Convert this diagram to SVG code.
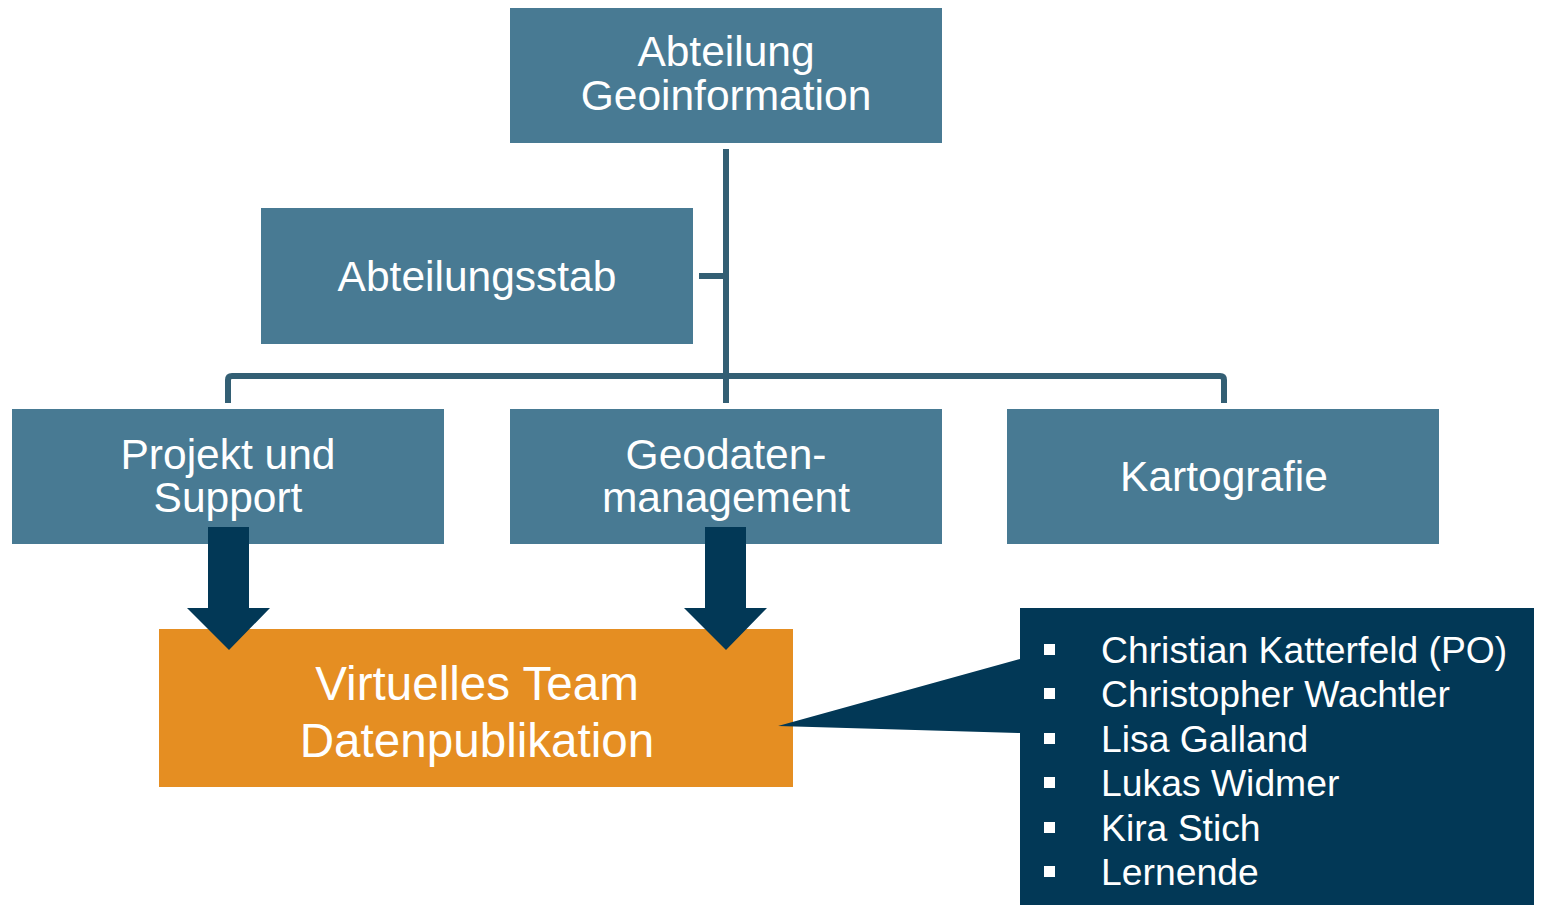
<svg xmlns="http://www.w3.org/2000/svg" width="1541" height="905" viewBox="0 0 1541 905">
<style>
.box{fill:#487A93;}
.t{font-family:"Liberation Sans",Arial,sans-serif;fill:#ffffff;text-anchor:middle;}
.n{font-size:42.5px;}
.o{font-size:47.6px;}
.b{font-family:"Liberation Sans",Arial,sans-serif;fill:#ffffff;font-size:37.3px;}
.ln{fill:none;stroke:#335F74;stroke-width:6;}
.arr{fill:#023856;}
.bul{fill:#ffffff;}
</style>
<rect width="1541" height="905" fill="#ffffff"/>
<g id="connectors">
<path class="ln" d="M726,149 V403"/>
<path class="ln" d="M699,276 H726"/>
<path class="ln" d="M228,403 V380 Q228,376 232,376 H1220 Q1224,376 1224,380 V403"/>
</g>
<g id="abteilung-geoinformation">
<rect class="box" x="510" y="8" width="432" height="135"/>
<text class="t n" x="726" y="66">Abteilung</text>
<text class="t n" x="726" y="110">Geoinformation</text>
</g>
<g id="abteilungsstab">
<rect class="box" x="261" y="208" width="432" height="136"/>
<text class="t n" x="477" y="291">Abteilungsstab</text>
</g>
<g id="projekt-und-support">
<rect class="box" x="12" y="409" width="432" height="135"/>
<text class="t n" x="228" y="469">Projekt und</text>
<text class="t n" x="228" y="512">Support</text>
</g>
<g id="geodatenmanagement">
<rect class="box" x="510" y="409" width="432" height="135"/>
<text class="t n" x="726" y="469">Geodaten-</text>
<text class="t n" x="726" y="512">management</text>
</g>
<g id="kartografie">
<rect class="box" x="1007" y="409" width="432" height="135"/>
<text class="t n" x="1224" y="491">Kartografie</text>
</g>
<g id="virtuelles-team">
<rect x="159" y="629" width="634" height="158" fill="#E58E22"/>
<text class="t o" x="477" y="700">Virtuelles Team</text>
<text class="t o" x="477" y="757">Datenpublikation</text>
</g>
<g id="arrows">
<polygon class="arr" points="208,527 249,527 249,608 270,608 229,650 187,608 208,608"/>
<polygon class="arr" points="705,527 746,527 746,608 767,608 726,650 684,608 705,608"/>
</g>
<g id="team-members">
<polygon class="arr" points="1020,608 1534,608 1534,905 1020,905 1020,733 778,726 1020,659"/>
<rect class="bul" x="1044" y="644" width="11" height="11"/>
<rect class="bul" x="1044" y="688" width="11" height="11"/>
<rect class="bul" x="1044" y="733" width="11" height="11"/>
<rect class="bul" x="1044" y="777" width="11" height="11"/>
<rect class="bul" x="1044" y="822" width="11" height="11"/>
<rect class="bul" x="1044" y="866" width="11" height="11"/>
<text class="b" x="1101" y="663">Christian Katterfeld (PO)</text>
<text class="b" x="1101" y="707">Christopher Wachtler</text>
<text class="b" x="1101" y="752">Lisa Galland</text>
<text class="b" x="1101" y="796">Lukas Widmer</text>
<text class="b" x="1101" y="841">Kira Stich</text>
<text class="b" x="1101" y="885">Lernende</text>
</g>
</svg>
